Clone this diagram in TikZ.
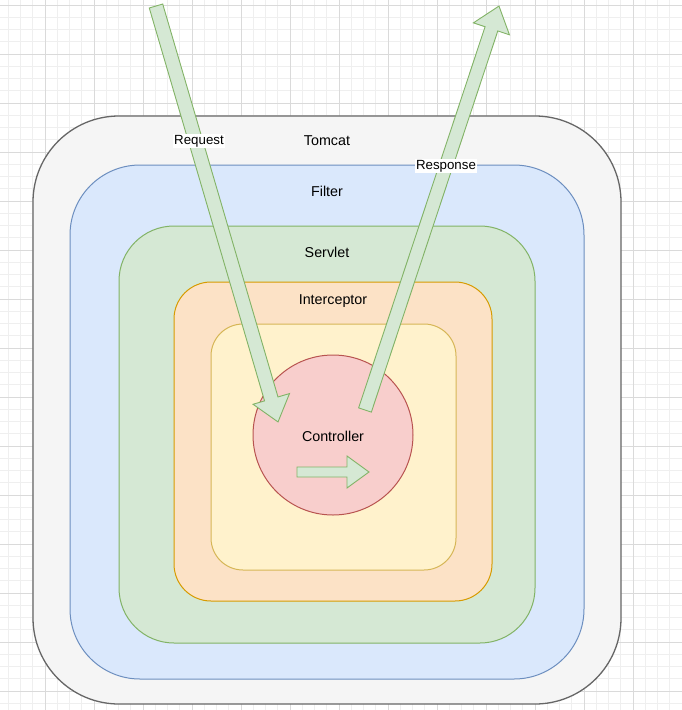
\documentclass[tikz,border=0pt]{standalone}
\usepackage{fontspec}
\setmainfont{Liberation Sans}
\usetikzlibrary{calc}
\definecolor{gridmin}{HTML}{EFEFEF}
\definecolor{gridmaj}{HTML}{DADADA}
\definecolor{tomfill}{HTML}{F5F5F5}
\definecolor{tomline}{HTML}{666666}
\definecolor{filfill}{HTML}{DAE8FC}
\definecolor{filline}{HTML}{6C8EBF}
\definecolor{serfill}{HTML}{D5E8D4}
\definecolor{serline}{HTML}{82B366}
\definecolor{intfill}{HTML}{FCE2C6}
\definecolor{intline}{HTML}{D79B00}
\definecolor{yelfill}{HTML}{FFF2CC}
\definecolor{yelline}{HTML}{D6B656}
\definecolor{confill}{HTML}{F8CECC}
\definecolor{conline}{HTML}{B85450}
\definecolor{arrfill}{HTML}{D5E8D4}
\definecolor{arrline}{HTML}{82B366}
\tikzset{
  gridminor/.style={draw=gridmin, line width=0.7pt},
  gridmajor/.style={draw=gridmaj, line width=0.9pt},
  layer/.style={line width=1pt},
  lbl/.style={font=\fontsize{14.3}{16}\selectfont, inner sep=0pt},
  elbl/.style={font=\fontsize{13.3}{15}\selectfont, fill=white, inner sep=1.5pt},
  blockarrow/.style={fill=arrfill, draw=arrline, line width=0.9pt, line join=miter},
}
\begin{document}
\begin{tikzpicture}[x=1pt,y=-1pt]
\useasboundingbox (0,0) rectangle (682,710);
\fill[white] (0,0) rectangle (682,710);
\begin{scope}
\clip (0,0) rectangle (682,710);
\foreach \k in {-4,...,52} { \draw[gridminor] ({45+12.25*\k},0) -- ({45+12.25*\k},710); }
\foreach \k in {-5,...,54} { \draw[gridminor] (0,{54+12.25*\k}) -- (682,{54+12.25*\k}); }
\foreach \k in {-1,...,13} { \draw[gridmajor] ({45+49*\k},0) -- ({45+49*\k},710); }
\foreach \k in {-2,...,14} { \draw[gridmajor] (0,{54+49*\k}) -- (682,{54+49*\k}); }
\end{scope}

% nested layers
\draw[layer, fill=tomfill, draw=tomline, line width=1.3pt, rounded corners=86pt] (33,116) rectangle (621,704);
\draw[layer, fill=filfill, draw=filline, rounded corners=70pt] (70,165) rectangle (584,679);
\draw[layer, fill=serfill, draw=serline, rounded corners=55pt] (119,226) rectangle (535,643);
\draw[layer, fill=intfill, draw=intline, rounded corners=37pt] (174,282) rectangle (492,601);
\draw[layer, fill=yelfill, draw=yelline, rounded corners=32pt] (211,324) rectangle (456,570);
\draw[layer, fill=confill, draw=conline] (333,435) circle[radius=80];

\node[lbl] (tomcat) at (327,141) {Tomcat};
\node[lbl] (filter) at (327,191) {Filter};
\node[lbl] (servlet) at (327,252) {Servlet};
\node[lbl] (interceptor) at (333,301) {Interceptor};
\node[lbl] (controller) at (333,436) {Controller};

% Request arrow
\coordinate (reqstart) at (156,6);
\begin{scope}[shift={(reqstart)}, rotate=-73.65]
\draw[blockarrow] (0,-7) -- (409.5,-7) -- (409.5,-19) -- (433.5,0) -- (409.5,19) -- (409.5,7) -- (0,7) -- cycle;
\end{scope}
% Response arrow
\coordinate (resstart) at (365,410);
\begin{scope}[shift={(resstart)}, rotate=71.65]
\draw[blockarrow] (0,-6.7) -- (401.6,-6.7) -- (401.6,-19) -- (425.6,0) -- (401.6,19) -- (401.6,6.7) -- (0,6.7) -- cycle;
\end{scope}
% Controller arrow
\coordinate (ctlstart) at (297,472);
\begin{scope}[shift={(ctlstart)}]
\draw[blockarrow] (0,-5) -- (50,-5) -- (50,-16) -- (72,0) -- (50,16) -- (50,5) -- (0,5) -- cycle;
\end{scope}

\node[elbl] (request) at (199,141) {Request};
\node[elbl] (response) at (446,166) {Response};
\end{tikzpicture}
\end{document}
